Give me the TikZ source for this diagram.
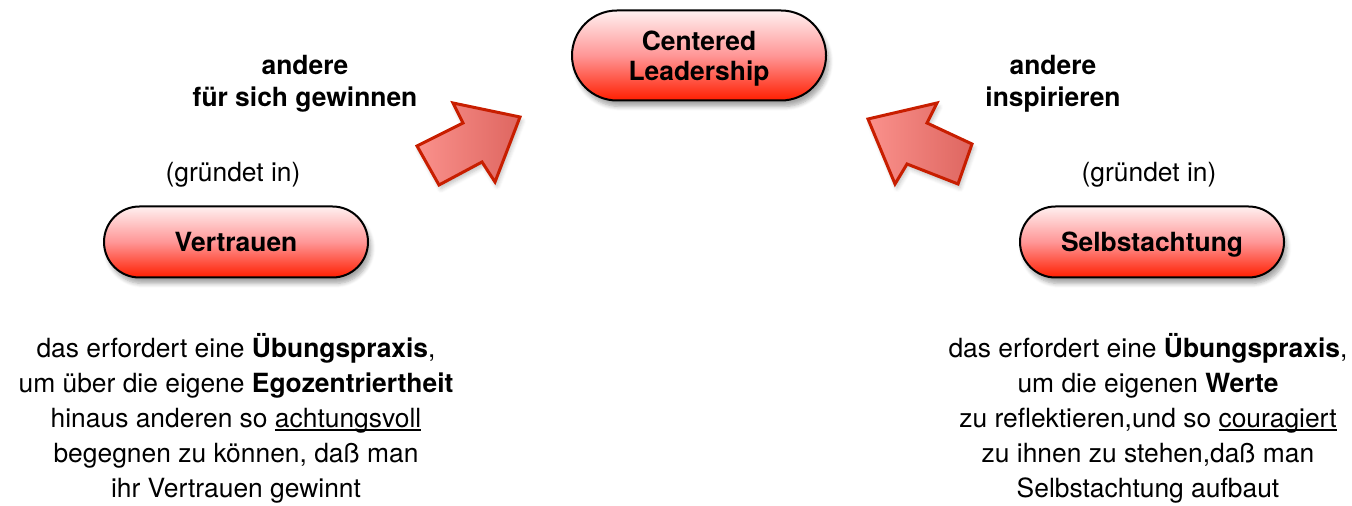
\documentclass[tikz,border=0pt]{standalone}
\usepackage{fontspec}
\setmainfont{TeX Gyre Heros}
\usetikzlibrary{shadows.blur}
\definecolor{pilltop}{RGB}{255,240,240}
\definecolor{pillmid}{RGB}{255,150,150}
\definecolor{pillred}{RGB}{255,30,0}
\definecolor{arrowline}{RGB}{200,30,0}
\definecolor{arrowlight}{RGB}{250,145,140}
\definecolor{arrowdark}{RGB}{222,102,96}
\newcommand{\labelfont}{\fontsize{13.2}{16}\selectfont}
\newcommand{\undl}[1]{\setbox0\hbox{#1}\rlap{\rule[-1.7pt]{\wd0}{0.6pt}}\box0}
\tikzset{
  pill/.style={draw=black, line width=1pt, top color=pilltop, bottom color=pillred,
    middle color=pillmid, font=\labelfont\bfseries, align=center, text depth=0pt,
    blur shadow={shadow xshift=1.5pt, shadow yshift=-3pt, shadow blur steps=6, shadow opacity=35}},
  blockarrow/.style={draw=arrowline, line width=1.5pt, line join=miter,
    left color=arrowlight, right color=arrowdark,
    blur shadow={shadow xshift=1pt, shadow yshift=-2pt, shadow blur steps=5, shadow opacity=25}},
  caption/.style={font=\labelfont\bfseries, align=center},
  note/.style={align=center, font=\fontsize{13.2}{17.5}\selectfont}
}
\begin{document}
\begin{tikzpicture}[x=0.5pt, y=-0.5pt, every node/.style={font=\labelfont}]
  \useasboundingbox (0,0) rectangle (1352,506);
  % pills
  \node[pill, minimum width=127pt, minimum height=45pt, rounded corners=22.5pt,
    font=\fontsize{13.2}{15}\selectfont\bfseries] (leader) at (699,55.5) {Centered\\Leadership};
  \node[pill, minimum width=132pt, minimum height=35.5pt, rounded corners=17.75pt] (trust) at (236,242) {Vertrauen};
  \node[pill, minimum width=132pt, minimum height=35.5pt, rounded corners=17.75pt] (respect) at (1152,242) {Selbstachtung};
  % block arrows
  \draw[blockarrow] (417,146) -- (463,123) -- (453,103) -- (520,117) -- (495,182) -- (482,162) -- (439,185) -- cycle;
  \draw[blockarrow] (868,119) -- (937,103) -- (927,123) -- (972,144) -- (958,184) -- (907,164) -- (895,184) -- cycle;
  % captions
  \node[caption] (winlabel) at (305,84) {andere\\für sich gewinnen};
  \node[caption] (inspirelabel) at (1053,84) {andere\\inspirieren};
  \node (groundleft) at (233,175) {(gründet in)};
  \node (groundright) at (1149,175) {(gründet in)};
  % notes
  \node[note] (trustnote) at (236,418) {das erfordert eine \textbf{Übungspraxis},\\
    um über die eigene \textbf{Egozentriertheit}\\
    hinaus anderen so \undl{achtungsvoll}\\
    begegnen zu können, daß man\\
    ihr Vertrauen gewinnt};
  \node[note] (respectnote) at (1148,418) {das erfordert eine \textbf{Übungspraxis},\\
    um die eigenen \textbf{Werte}\\
    zu reflektieren,und so \undl{couragiert}\\
    zu ihnen zu stehen,daß man\\
    Selbstachtung aufbaut};
\end{tikzpicture}
\end{document}
